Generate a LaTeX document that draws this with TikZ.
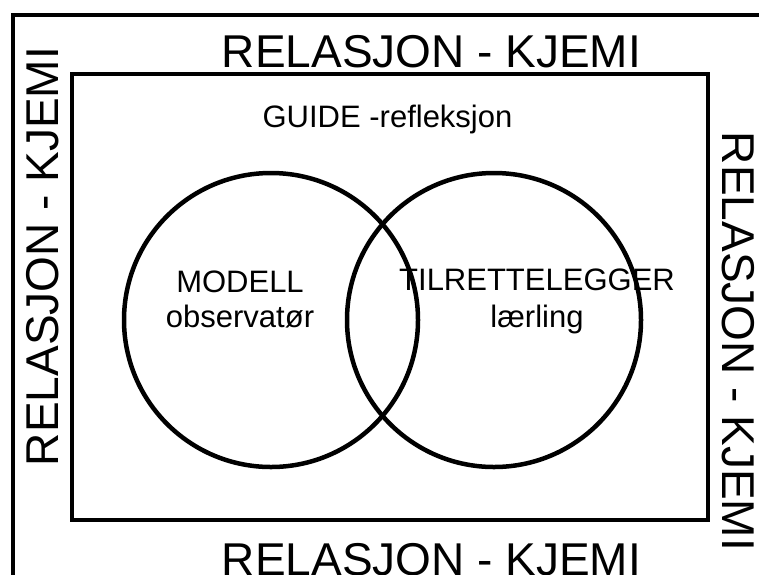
\documentclass[tikz,border=0pt]{standalone}
\usepackage{fontspec}
\setmainfont{Liberation Sans}
\usepackage{tikz}

\begin{document}
\begin{tikzpicture}[x=1pt,y=-1pt,
    big/.style={font=\fontsize{46}{55}\selectfont,inner sep=0pt,anchor=base},
    mid/.style={font=\fontsize{31}{37}\selectfont,inner sep=0pt,anchor=base},
    ring/.style={draw,circle,line width=4.5pt,minimum size=294pt,inner sep=0pt}]
        \useasboundingbox (0,0) rectangle (759,574);
        \clip (0,0) rectangle (759,574);
        % frames
        \draw[line width=4.5pt] (13,15) rectangle (790,610);
        \draw[line width=4.5pt] (72,74) rectangle (708,520);
        % circles
        \node[ring] (modell) at (271,320) {};
        \node[ring] (tilrett) at (494,320) {};
        % outer labels
        \node[big] (reltop) at (431.5,67) {RELASJON - KJEMI};
        \node[big] (relbot) at (431.5,575) {RELASJON - KJEMI};
        \node[big,rotate=90] (relleft) at (58,256.5) {RELASJON - KJEMI};
        \node[big,rotate=-90] (relright) at (722,341.5) {RELASJON - KJEMI};
        % inner labels
        \node[mid] (guide) at (387.5,127) {GUIDE -refleksjon};
        \node[mid] (mod) at (240,292) {MODELL};
        \node[mid] (obs) at (240,327) {observatør};
        \node[mid] (tlr) at (537,290) {TILRETTELEGGER};
        \node[mid] (laer) at (537,327) {lærling};
    \end{tikzpicture}
\end{document}
